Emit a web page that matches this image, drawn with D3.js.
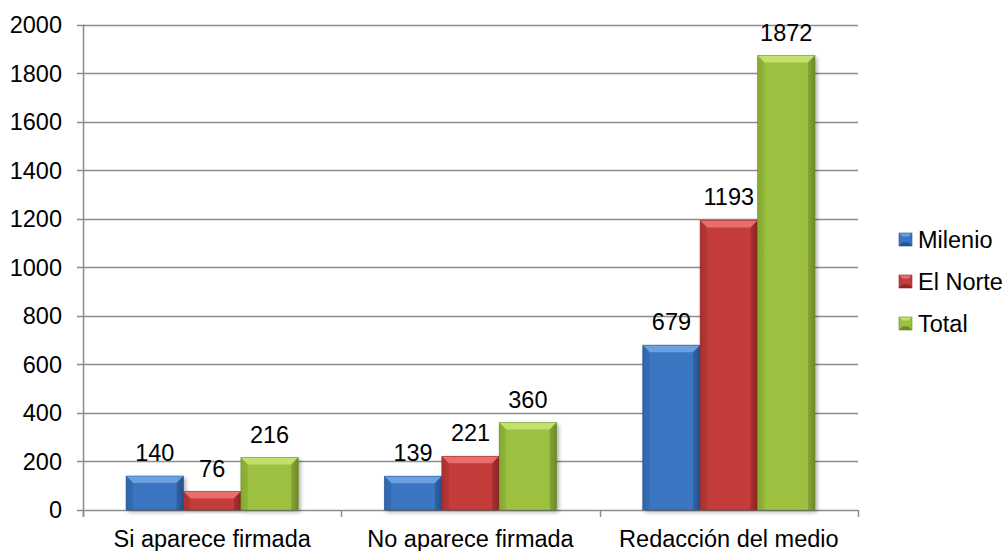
<!DOCTYPE html>
<html><head><meta charset="utf-8">
<script src="https://cdn.jsdelivr.net/npm/d3@7"></script>
<style>body{margin:0;background:#fff}svg{display:block}text{font-family:"Liberation Sans",Arial,sans-serif;fill:#000}</style>
</head><body><svg id="c" width="1005" height="551"></svg>
<script>
const categories = ["Si aparece firmada","No aparece firmada","Redacción del medio"];
const seriesNames = ["Milenio","El Norte","Total"];
const milenio = [140,139,679];
const elNorte = [76,221,1193];
const total = [216,360,1872];
const yTicks = [0,200,400,600,800,1000,1200,1400,1600,1800,2000];
const seriesValues = [milenio, elNorte, total];
const colors = [
  {main:"#3a76c2", light:"#6aa0e0", dark:"#24508c", side:"#2f64a8"},
  {main:"#c43c3b", light:"#ea6d6b", dark:"#8c2424", side:"#a83130"},
  {main:"#9cc13f", light:"#c2e06c", dark:"#6c8a28", side:"#86a834"}
];
const FS = "23.5px";
const svg = d3.select("#c");
const L=83, R=858, T=24.5, B=510;
const x0 = d3.scaleBand().domain(categories).range([L,R]).paddingInner(0).paddingOuter(0);
const inner = d3.scaleBand().domain(seriesNames).range([0,x0.bandwidth()]).paddingOuter(0.75).paddingInner(0);
const y = d3.scaleLinear().domain([0,2000]).range([B,T]);

const defs = svg.append("defs");
colors.forEach((c,i)=>{
  const g = defs.append("linearGradient").attr("id","g"+i).attr("x1",0).attr("x2",1).attr("y1",0).attr("y2",0);
  g.append("stop").attr("offset","0").attr("stop-color",c.side);
  g.append("stop").attr("offset","0.12").attr("stop-color",c.main);
  g.append("stop").attr("offset","0.88").attr("stop-color",c.main);
  g.append("stop").attr("offset","1").attr("stop-color",c.dark);
});
const f = defs.append("filter").attr("id","sh").attr("x","-20%").attr("y","-20%").attr("width","140%").attr("height","140%");
f.append("feGaussianBlur").attr("in","SourceAlpha").attr("stdDeviation",2);
f.append("feOffset").attr("dx",2).attr("dy",2).attr("result","o");
f.append("feComponentTransfer").append("feFuncA").attr("type","linear").attr("slope",0.35);
const m = f.append("feMerge"); m.append("feMergeNode"); m.append("feMergeNode").attr("in","SourceGraphic");

// gridlines
svg.append("g").selectAll("line").data(yTicks).join("line")
  .attr("x1",L-6).attr("x2",R).attr("y1",d=>Math.round(y(d))+0.5).attr("y2",d=>Math.round(y(d))+0.5)
  .attr("stroke","#8c8c8c").attr("stroke-width",1.5);
// y labels
svg.append("g").selectAll("text").data(yTicks).join("text")
  .attr("x",62).attr("y",d=>y(d)).attr("dy","0.36em").attr("text-anchor","end")
  .style("font-size",FS).text(d=>d);
// left axis
svg.append("line").attr("x1",L+0.5).attr("x2",L+0.5).attr("y1",T).attr("y2",B+7).attr("stroke","#8c8c8c").attr("stroke-width",1.5);
// category ticks
const bounds = [L, ...categories.map(c=>x0(c)+x0.bandwidth())];
svg.append("g").selectAll("line").data(bounds).join("line")
  .attr("x1",d=>Math.round(d)+0.5).attr("x2",d=>Math.round(d)+0.5).attr("y1",B).attr("y2",B+7)
  .attr("stroke","#8c8c8c").attr("stroke-width",1.5);

// bars
const bars = svg.append("g");
categories.forEach((cat,ci)=>{
  seriesNames.forEach((s,si)=>{
    const v = seriesValues[si][ci];
    const bx = x0(cat)+inner(s), bw = inner.bandwidth();
    const by = y(v), bh = B-by;
    const c = colors[si];
    const g = bars.append("g");
    g.append("rect").attr("x",bx).attr("y",by).attr("width",bw).attr("height",bh)
      .attr("fill","url(#g"+si+")").attr("filter","url(#sh)");
    const bev = Math.min(7, bh/2);
    g.append("polygon").attr("points",[[bx,by],[bx+bw,by],[bx+bw-bev,by+bev],[bx+bev,by+bev]].map(p=>p.join(",")).join(" "))
      .attr("fill",c.light);
    g.append("polygon").attr("points",[[bx,by],[bx+bev,by+bev],[bx+bev,B],[bx,B]].map(p=>p.join(",")).join(" "))
      .attr("fill",c.side).attr("opacity",0.5);
    g.append("polygon").attr("points",[[bx+bw,by],[bx+bw-bev,by+bev],[bx+bw-bev,B],[bx+bw,B]].map(p=>p.join(",")).join(" "))
      .attr("fill",c.dark).attr("opacity",0.5);
    g.append("rect").attr("x",bx).attr("y",by).attr("width",bw).attr("height",bh)
      .attr("fill","none").attr("stroke",c.dark).attr("stroke-width",0.8).attr("stroke-opacity",0.6);
    svg.append("text").attr("x",bx+bw/2).attr("y",by-15).attr("text-anchor","middle")
      .style("font-size",FS).text(v);
  });
});

// category labels
svg.append("g").selectAll("text").data(categories).join("text")
  .attr("x",d=>x0(d)+x0.bandwidth()/2).attr("y",547).attr("text-anchor","middle")
  .style("font-size",FS).text(d=>d);

// legend
const lg = svg.append("g");
seriesNames.forEach((s,i)=>{
  const cy = 239.5 + i*42;
  const c = colors[i];
  const sx=899, sz=13, sy=cy-6.5;
  lg.append("rect").attr("x",sx).attr("y",sy).attr("width",sz).attr("height",sz).attr("fill",c.main);
  const b=3.5;
  lg.append("polygon").attr("points",[[sx,sy],[sx+sz,sy],[sx+sz-b,sy+b],[sx+b,sy+b]].map(p=>p.join(",")).join(" ")).attr("fill",c.light);
  lg.append("polygon").attr("points",[[sx,sy+sz],[sx+sz,sy+sz],[sx+sz-b,sy+sz-b],[sx+b,sy+sz-b]].map(p=>p.join(",")).join(" ")).attr("fill",c.dark);
  lg.append("rect").attr("x",sx).attr("y",sy).attr("width",sz).attr("height",sz).attr("fill","none").attr("stroke",c.dark).attr("stroke-width",0.6);
  lg.append("text").attr("x",918).attr("y",cy).attr("dy","0.36em").style("font-size",FS).text(s);
});
</script></body></html>
